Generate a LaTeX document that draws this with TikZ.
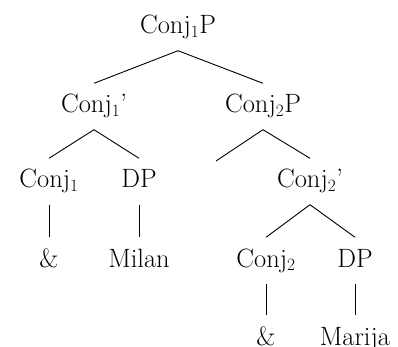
\documentclass[tikz,border=0pt]{standalone}
\begin{document}
\begin{tikzpicture}[x=1pt,y=-1pt,
  lbl/.style={anchor=base,inner xsep=0pt,inner ysep=10.5pt,text height=19pt,text depth=6pt,font=\fontsize{26.5}{30}\selectfont},
  branch/.style={line width=0.9pt}]
\useasboundingbox (0,0) rectangle (398,347);
\node[lbl] (top) at (178,34) {Conj$_1$P};
\node[lbl] (c1bar) at (94,113) {Conj$_1$'};
\node[lbl] (c2p) at (263,113) {Conj$_2$P};
\node[lbl] (c1) at (49,188) {Conj$_1$};
\node[lbl] (dp1) at (139,188) {DP};
\coordinate (empty) at (216,161);
\node[lbl] (c2bar) at (310,188) {Conj$_2$'};
\node[lbl] (amp1) at (49,267) {\&};
\node[lbl] (milan) at (139,267) {Milan};
\node[lbl] (c2) at (266,267) {Conj$_2$};
\node[lbl] (dp2) at (355,267) {DP};
\node[lbl] (amp2) at (266,345) {\&};
\node[lbl] (marija) at (355,345) {Marija};
\draw[branch] (top.south) -- (c1bar.north);
\draw[branch] (top.south) -- (c2p.north);
\draw[branch] (c1bar.south) -- (c1.north);
\draw[branch] (c1bar.south) -- (dp1.north);
\draw[branch] (c2p.south) -- (empty);
\draw[branch] (c2p.south) -- (c2bar.north);
\draw[branch] (c1.south) -- (amp1.north);
\draw[branch] (dp1.south) -- (milan.north);
\draw[branch] (c2bar.south) -- (c2.north);
\draw[branch] (c2bar.south) -- (dp2.north);
\draw[branch] (c2.south) -- (amp2.north);
\draw[branch] (dp2.south) -- (marija.north);
\end{tikzpicture}
\end{document}
